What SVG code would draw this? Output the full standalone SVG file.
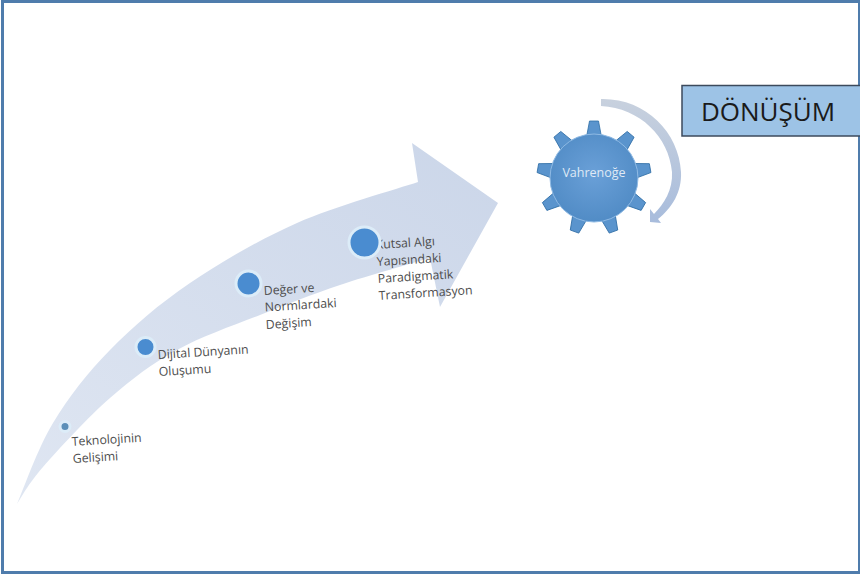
<svg xmlns="http://www.w3.org/2000/svg" width="860" height="574" viewBox="0 0 860 574">
<defs>
<style>
.lbl{font-family:"Open Sans","Noto Sans","Liberation Sans",sans-serif;font-size:12.300px;fill:#4d4d4d}
.dot{fill:#4a8cd0;stroke:#dcecf8;stroke-width:3}
</style>
<linearGradient id="body" x1="0" y1="1" x2="1" y2="0"><stop offset="0" stop-color="#dfe6f2"/><stop offset="1" stop-color="#cbd6e9"/></linearGradient>
<linearGradient id="ring" x1="0" y1="0" x2="0" y2="1"><stop offset="0" stop-color="#c8d1de"/><stop offset="1" stop-color="#a8bcdc"/></linearGradient>
<radialGradient id="gear" cx="0.5" cy="0.45" r="0.6"><stop offset="0" stop-color="#6aa0d8"/><stop offset="1" stop-color="#4f8ac4"/></radialGradient>
<path id="tooth" d="M-7.500-41L-4.500-57H4.500L7.500-41Z" fill="#5a94cd" stroke="#2f6ea6" stroke-width="0.800"/>
</defs>
<rect x="2.500" y="1.500" width="857" height="571" fill="#fff" stroke="#4f7cac" stroke-width="3"/>
<g id="arrow"><path d="M17 504C23 490.500 37.500 448.700 53 423C68.500 397.300 87.200 373.300 110 350C132.800 326.700 158.800 304.200 190 283C221.200 261.800 259 239.800 297 223C335 206.200 397.800 188.800 418 182L412 143L498 203L440 307L430 258C415 262.500 368.300 275.500 340 285C311.700 294.500 287.200 304.200 260 315C232.800 325.800 202 336.200 177 350C152 363.800 132.300 378.500 110 398C87.700 417.500 58.500 449.300 43 467C27.500 484.700 21.300 497.800 17 504Z" fill="url(#body)"/></g>
<g id="connectors"><path d="M601 99C645 98 679 132 681 172C682 192 672 208 658 219L661 223L650 222L650 209L654 214C664 204 673 190 672 172C669 137 640 108 601 106Z" fill="url(#ring)"/></g>
<g id="node1"><text class="lbl" transform="rotate(-3.500 72 446)"><tspan x="72" y="446">Teknolojinin</tspan><tspan x="72" y="463">Gelişimi</tspan></text><circle class="dot" cx="65" cy="426.500" r="5" style="fill:#5b8fb8"/></g>
<g id="node2"><text class="lbl" transform="rotate(-3.500 158 359)"><tspan x="158" y="359">Dijital Dünyanın</tspan><tspan x="158" y="376">Oluşumu</tspan></text><circle class="dot" cx="145.500" cy="347" r="9.500"/></g>
<g id="node3"><text class="lbl" transform="rotate(-3.500 264 295)"><tspan x="264" y="295">Değer ve</tspan><tspan x="264" y="311.500">Normlardaki</tspan><tspan x="264" y="329">Değişim</tspan></text><circle class="dot" cx="248.500" cy="283.500" r="12.500"/></g>
<g id="node4"><text class="lbl" transform="rotate(-3.500 376 249)"><tspan x="376" y="249">Kutsal Algı</tspan><tspan x="376" y="266">Yapısındaki</tspan><tspan x="376" y="283">Paradigmatik</tspan><tspan x="376" y="300">Transformasyon</tspan></text><circle class="dot" cx="364.500" cy="242.500" r="15.500"/></g>
<g id="gearNode">
<g transform="translate(594 178)"><use href="#tooth"/><use href="#tooth" transform="rotate(40)"/><use href="#tooth" transform="rotate(80)"/><use href="#tooth" transform="rotate(120)"/><use href="#tooth" transform="rotate(160)"/><use href="#tooth" transform="rotate(200)"/><use href="#tooth" transform="rotate(240)"/><use href="#tooth" transform="rotate(280)"/><use href="#tooth" transform="rotate(320)"/><circle r="44" fill="url(#gear)" stroke="#8fbae4" stroke-width="1"/></g>
<text x="594" y="177" text-anchor="middle" style="font-family:'Open Sans','Noto Sans',sans-serif;font-size:12.500px;fill:#dfe9f5">Vahrenoğe</text>
</g>
<g id="donusum"><rect x="682" y="85.500" width="180" height="50.500" fill="#9dc3e6" stroke="#3c4a5c" stroke-width="1.500"/><text x="768" y="121" text-anchor="middle" style="font-family:'Open Sans','Noto Sans',sans-serif;font-size:26px;fill:#1a1a1a">DÖNÜŞÜM</text></g>
</svg>
